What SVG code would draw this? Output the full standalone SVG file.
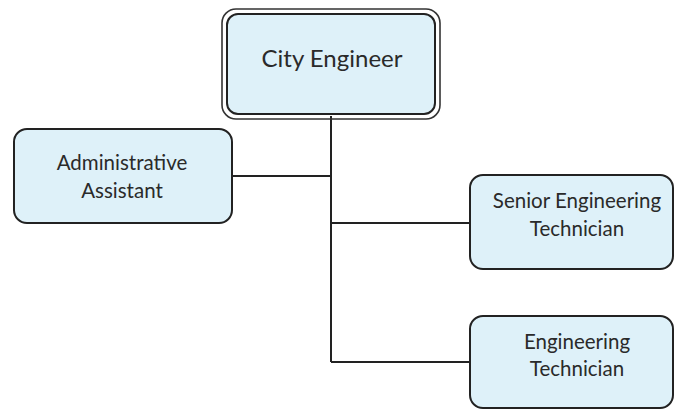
<svg xmlns="http://www.w3.org/2000/svg" width="675" height="410" viewBox="0 0 675 410">
<style>
.box{fill:#def1f9;stroke:#222;stroke-width:2}
.outer{fill:none;stroke:#333;stroke-width:1.6}
.t{font-family:Lato,"Open Sans",sans-serif;fill:#2a2a2a;text-anchor:middle}
.big{font-size:24px}
.sm{font-size:20.5px}
.line{stroke:#222;stroke-width:2;fill:none}
</style>
<rect width="675" height="410" fill="#ffffff"/>
<g id="connectors">
<path class="line" d="M331 116 V362 M232 176 H331 M331 223 H470 M331 362 H470"/>
</g>
<g id="city-engineer">
<rect class="outer" x="222" y="9" width="218" height="110" rx="14"/>
<rect class="box" x="227" y="14" width="208" height="100" rx="11"/>
<text class="t big" x="332" y="67">City Engineer</text>
</g>
<g id="admin-assistant">
<rect class="box" x="14" y="129" width="218" height="94" rx="13"/>
<text class="t sm" x="122" y="170">Administrative</text>
<text class="t sm" x="122" y="198">Assistant</text>
</g>
<g id="senior-tech">
<rect class="box" x="470" y="175" width="203" height="94" rx="13"/>
<text class="t sm" x="577" y="208">Senior Engineering</text>
<text class="t sm" x="577" y="236">Technician</text>
</g>
<g id="eng-tech">
<rect class="box" x="470" y="316" width="203" height="92" rx="13"/>
<text class="t sm" x="577" y="349">Engineering</text>
<text class="t sm" x="577" y="376">Technician</text>
</g>
</svg>
